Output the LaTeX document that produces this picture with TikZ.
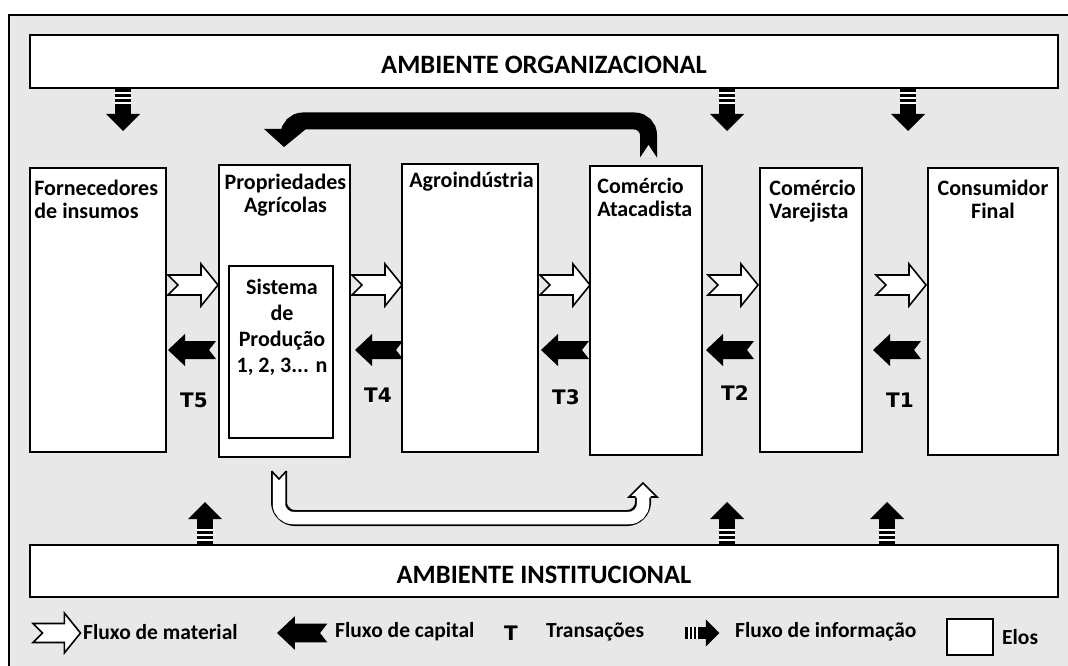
\documentclass[tikz,border=0pt]{standalone}
\usepackage{fontspec}
\setmainfont{Carlito}
\newfontfamily\tfont{DejaVu Sans}
\usetikzlibrary{positioning}
\definecolor{bggray}{RGB}{232,232,232}

\tikzset{
  elo/.style={draw,line width=1.6pt,fill=white,inner sep=0pt},
  lbl/.style={font=\fontsize{22}{23}\selectfont\bfseries,inner sep=0pt,align=left},
  leg/.style={font=\fontsize{21.5}{23}\selectfont\bfseries,inner sep=0pt},
  amb/.style={font=\fontsize{26.5}{28}\selectfont\bfseries,inner sep=0pt},
  tlbl/.style={font=\fontsize{20}{20}\tfont\bfseries,inner sep=0pt},
  matarrow/.pic={
    \draw[line width=1.6pt,fill=white,line join=miter]
      (0,-10) -- (33,-10) -- (33,-21) -- (50,0) -- (33,21) -- (33,10) -- (0,10) -- (10,0) -- cycle;
  },
  caparrow/.pic={
    \fill (0,0) -- (17,-16) -- (17,-9) -- (48,-9) -- (41,0) -- (48,9) -- (17,9) -- (17,16) -- cycle;
  },
  infoarrow/.pic={
    \fill (-8,0) rectangle (8,27);
    \fill (-17,26) -- (17,26) -- (0,43) -- cycle;
    \foreach \s in {5,10,15} \fill[white] (-8,\s-1.2) rectangle (8,\s+1.2);
  }
}

\begin{document}
\begin{tikzpicture}[x=1pt,y=-1pt]
  \useasboundingbox (0,0) rectangle (1068,666);
  \draw[line width=2pt,fill=bggray] (9,15) rectangle (1085,685);

  % ambientes
  \node[elo,minimum width=1028pt,minimum height=53pt] (org) at (544,61.5) {};
  \node[amb] at ([yshift=-3pt]org) {AMBIENTE ORGANIZACIONAL};
  \node[elo,minimum width=1028pt,minimum height=52pt] (inst) at (544,571) {};
  \node[amb] at ([yshift=-4pt]inst) {AMBIENTE INSTITUCIONAL};

  % elos
  \node[elo,minimum width=136pt,minimum height=284pt] (forn) at (98,310) {};
  \node[elo,minimum width=131pt,minimum height=292pt] (prop) at (284.5,311) {};
  \node[elo,minimum width=104pt,minimum height=172pt] (sist) at (281,352) {};
  \node[elo,minimum width=136pt,minimum height=288pt] (agro) at (470,308) {};
  \node[elo,minimum width=112pt,minimum height=289pt] (atac) at (646,310.5) {};
  \node[elo,minimum width=102pt,minimum height=284pt] (varej) at (811,310) {};
  \node[elo,minimum width=130pt,minimum height=287pt] (cons) at (993,311.5) {};

  \node[lbl,anchor=north west] at ([shift={(5,13)}]forn.north west) {Fornecedores\\de insumos};
  \node[lbl,anchor=north,align=center] at ([shift={(1,10)}]prop.north) {Propriedades\\Agrícolas};
  \node[lbl,anchor=north,align=center,font=\fontsize{22}{26}\selectfont\bfseries] at ([shift={(1,14)}]sist.north) {Sistema\\de\\Produção\\1, 2, 3... n};
  \node[lbl,anchor=north west] at ([shift={(8,9)}]agro.north west) {Agroindústria};
  \node[lbl,anchor=north west] at ([shift={(8,13)}]atac.north west) {Comércio\\Atacadista};
  \node[lbl,anchor=north west] at ([shift={(10,13)}]varej.north west) {Comércio\\Varejista};
  \node[lbl,anchor=north,align=center] at ([shift={(0,13)}]cons.north) {Consumidor\\Final};

  % fluxo de material
  \foreach \x in {168,352,540,708,876}
    \pic at (\x,285) {matarrow};
  % fluxo de capital
  \foreach \x in {168,355,541,706,873}
    \pic at (\x,350) {caparrow};
  % transacoes
  \node[tlbl] (t5) at (194,400) {T5};
  \node[tlbl] (t4) at (378,395) {T4};
  \node[tlbl] (t3) at (566,397) {T3};
  \node[tlbl] (t2) at (735,393) {T2};
  \node[tlbl] (t1) at (900,400) {T1};

  % fluxo de informacao
  \foreach \x in {123,727,908}
    \pic at (\x,88) {infoarrow};
  \foreach \x in {205,727,887}
    \pic[rotate=180] at (\x,545) {infoarrow};

  % retorno atacado -> propriedades
  \coordinate (fbtail) at (648.5,158);
  \coordinate (fbhead) at (284,147);
  \draw[line width=17pt,rounded corners=14pt] (fbtail) |- (289,121) -- (289,132);
  \fill (264,129) -- (306,129) -- (fbhead) -- cycle;
  \fill[bggray] (639.5,158.6) -- (657.5,158.6) -- (648.5,145) -- cycle;

  % venda direta propriedades -> atacado
  \coordinate (vdtail) at (279,471);
  \coordinate (vdhead) at (643,483);
  \draw[line width=16pt,rounded corners=16pt] (vdtail) |- (643,518) -- (643,497);
  \draw[line width=12.5pt,white,rounded corners=14pt] (vdtail) |- (643,518) -- (643,496);
  \fill[white] (629,497.5) -- (vdhead) -- (657,497.5) -- cycle;
  \draw[line width=1.6pt,line join=miter] (635.5,497) -- (629,497) -- (vdhead) -- (657,497) -- (650.5,497);
  \fill[bggray] (270,470) -- (288,470) -- (279,479) -- cycle;
  \draw[line width=1.6pt] (271.5,471) -- (279,479) -- (286.5,471);

  % legenda
  \pic[scale=0.95] at (33,633) {matarrow};
  \node[leg,anchor=west] at (83,632) {Fluxo de material};
  \pic[scale=1.05] at (277,633) {caparrow};
  \node[leg,anchor=west] at (335,632) {Fluxo de capital};
  \node[tlbl] at (511,633) {T};
  \node[leg,anchor=west] at (546,632) {Transações};
  \pic[rotate=90,scale=0.8] at (685,633) {infoarrow};
  \node[leg,anchor=west] at (735,632) {Fluxo de informação};
  \node[elo,minimum width=46pt,minimum height=36pt] (elos) at (970,637) {};
  \node[leg,anchor=west] at (1002,637) {Elos};
\end{tikzpicture}
\end{document}
